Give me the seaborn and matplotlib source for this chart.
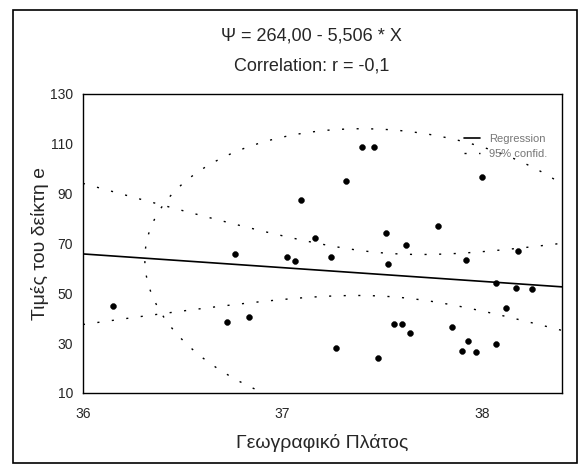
import numpy as np
import pandas as pd
import matplotlib.pyplot as plt
import matplotlib.patches as patches
import seaborn as sns

# data
latitude = [36.15, 36.72, 36.83, 36.76, 37.02, 37.06, 37.09, 37.16, 37.24, 37.27,
            37.32, 37.40, 37.46, 37.48, 37.52, 37.53, 37.56, 37.60, 37.62, 37.64,
            37.78, 37.85, 37.90, 37.92, 37.93, 37.97, 38.00, 38.07, 38.07, 38.12,
            38.17, 38.18, 38.25]
index_e = [44.9, 38.5, 40.5, 65.8, 64.6, 63.0, 87.5, 72.2, 64.6, 28.1,
           95.1, 108.8, 108.8, 24.1, 74.3, 61.8, 37.7, 37.7, 69.4, 34.1,
           77.1, 36.5, 26.9, 63.4, 30.9, 26.5, 96.7, 54.2, 29.7, 44.1,
           52.2, 67.0, 51.8]
intercept = 264.00
slope = -5.506

x_ticks = [36, 37, 38]
y_ticks = [10, 30, 50, 70, 90, 110, 130]

sns.set_theme(style="white")
plt.rcParams['font.family'] = ['Liberation Sans', 'DejaVu Sans']

df = pd.DataFrame({'lat': latitude, 'e': index_e})
x = df['lat'].values
y = df['e'].values
n = len(x)

# regression line and 95% confidence band
xs = np.linspace(36.0, 38.4, 200)
fit = intercept + slope * xs
resid = y - (intercept + slope * x)
s = np.sqrt(np.sum(resid ** 2) / (n - 2))
sxx = np.sum((x - x.mean()) ** 2)
half = 2.04 * s * np.sqrt(1 / n + (xs - x.mean()) ** 2 / sxx)
line_df = pd.DataFrame({'lat': xs, 'fit': fit, 'lo': fit - half, 'hi': fit + half})

# 95% data ellipse
cov = np.cov(x, y)
L = np.linalg.cholesky(cov)
t = np.linspace(0, 2 * np.pi, 300)
circ = np.vstack([np.cos(t), np.sin(t)]) * np.sqrt(5.991)
ell = L @ circ
ex = x.mean() + ell[0]
ey = y.mean() + ell[1]

fig = plt.figure(figsize=(5.88, 4.65), dpi=100)
ax = fig.add_axes([0.141, 0.155, 0.815, 0.643])

dots = (0, (1.5, 9))
sns.lineplot(data=line_df, x='lat', y='fit', color='black', lw=1.2, ax=ax, label='Regression')
sns.lineplot(data=line_df, x='lat', y='hi', color='black', lw=1, linestyle=dots, ax=ax, label='95% confid.')
sns.lineplot(data=line_df, x='lat', y='lo', color='black', lw=1, linestyle=dots, ax=ax, legend=False)
ax.plot(ex, ey, color='black', lw=1, linestyle=dots)
sns.scatterplot(data=df, x='lat', y='e', color='black', s=18, edgecolor='black', ax=ax, zorder=5)

ax.set_xlim(36, 38.4)
ax.set_ylim(10, 130)
ax.set_xticks(x_ticks)
ax.set_xticklabels([str(v) for v in x_ticks], fontsize=10)
ax.set_yticks(y_ticks)
ax.set_yticklabels([str(v) for v in y_ticks], fontsize=10)
ax.tick_params(direction='in', length=3, color='black')
ax.tick_params(axis='x', pad=10)
ax.tick_params(axis='y', pad=7)
for sp in ax.spines.values():
    sp.set_color('black')
    sp.set_linewidth(1)

ax.set_xlabel('Γεωγραφικό Πλάτος', fontsize=14)
ax.set_ylabel('Τιμές του δείκτη e', fontsize=14)
ax.xaxis.set_label_coords(0.5, -0.167)
ax.yaxis.set_label_coords(-0.09, 0.5)
ax.xaxis.label.set_va('center')
ax.yaxis.label.set_va('center')

leg = ax.legend(loc='upper right', frameon=False, fontsize=8, handlelength=1.5,
                bbox_to_anchor=(0.99, 0.9))
for txt in leg.get_texts():
    txt.set_color('#777777')

fig.text(0.53, 0.922, 'Ψ = 264,00 - 5,506 * X', ha='center', va='center', fontsize=13)
fig.text(0.53, 0.857, 'Correlation: r = -0,1', ha='center', va='center', fontsize=13)

fig.patches.append(patches.Rectangle((0.022, 0.004), 0.96, 0.974, transform=fig.transFigure,
                                     fill=False, edgecolor='black', lw=1.2))

plt.savefig('out.png', dpi=100)
